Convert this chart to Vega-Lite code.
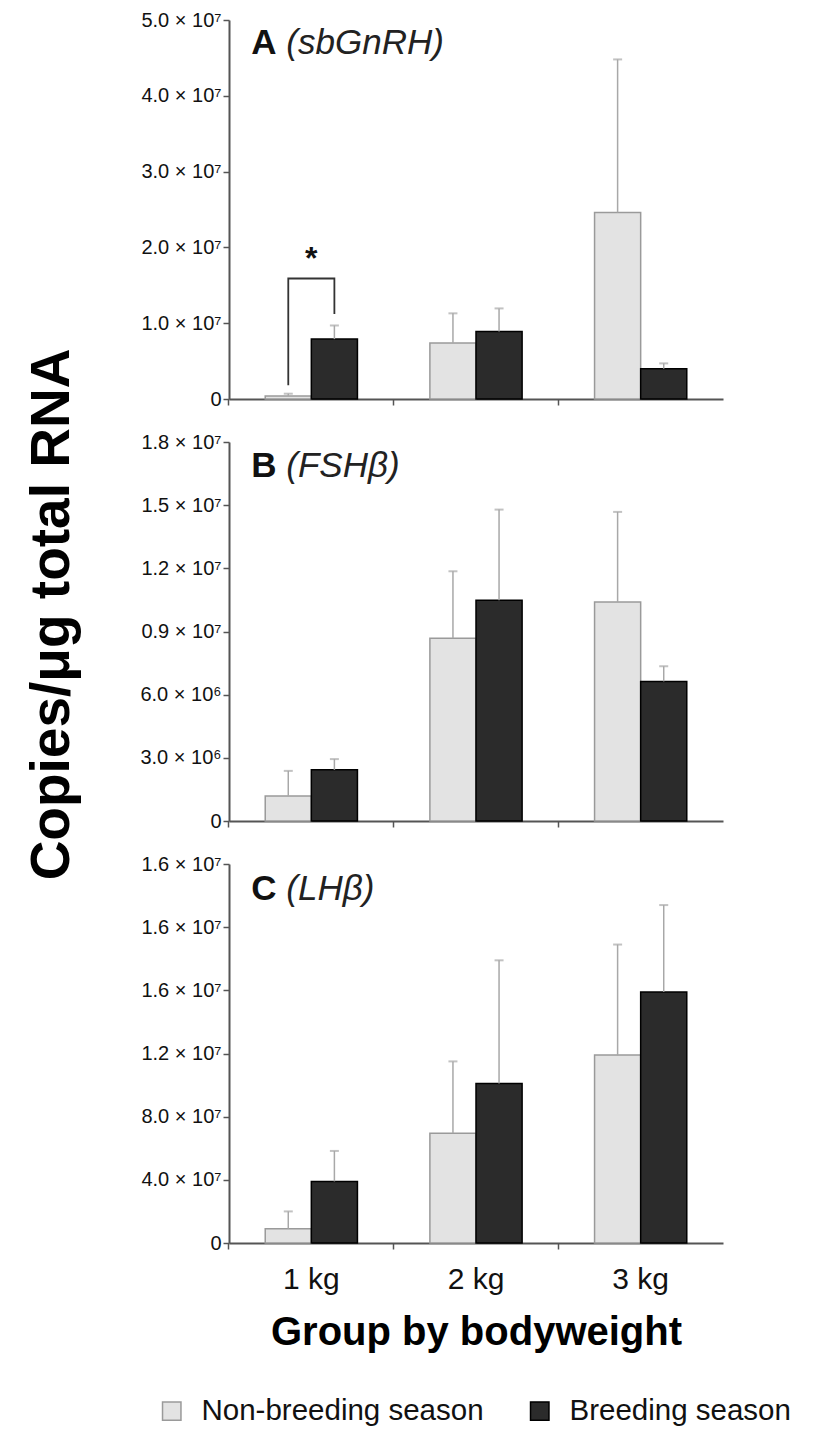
{
  "$schema": "https://vega.github.io/schema/vega-lite/v6.json",
  "padding": {"left": 24, "top": 10, "right": 20, "bottom": 10},
  "bounds": "flush",
  "spacing": 43,
  "config": {
    "font": "Liberation Sans",
    "view": {"stroke": null},
    "axis": {"domainColor": "#555555", "domainWidth": 2, "tickColor": "#555555", "tickWidth": 1.5, "grid": false, "labelColor": "#111111", "titleColor": "#000000"},
    "axisY": {"labelFontSize": 20, "tickSize": 6, "labelPadding": 2},
    "axisX": {"tickSize": 6, "bandPosition": -0.393, "labelFontSize": 30, "labelPadding": 15, "labelAngle": 0},
    "legend": {"title": null, "orient": "none", "direction": "horizontal", "legendX": -72, "legendY": 1376, "symbolType": "square", "symbolSize": 340, "symbolStrokeWidth": 1.5, "labelFontSize": 29.5, "labelOffset": 15, "columnPadding": 41, "labelColor": "#111111", "labelLimit": 400}
  },
  "datasets": {
    "bars": [
      {"panel": "A", "group": "1 kg", "season": "Non-breeding season", "value": 400000, "upper": 700000},
      {"panel": "A", "group": "1 kg", "season": "Breeding season", "value": 7900000, "upper": 9700000},
      {"panel": "A", "group": "2 kg", "season": "Non-breeding season", "value": 7400000, "upper": 11300000},
      {"panel": "A", "group": "2 kg", "season": "Breeding season", "value": 8900000, "upper": 11950000},
      {"panel": "A", "group": "3 kg", "season": "Non-breeding season", "value": 24600000, "upper": 44800000},
      {"panel": "A", "group": "3 kg", "season": "Breeding season", "value": 4000000, "upper": 4700000},
      {"panel": "B", "group": "1 kg", "season": "Non-breeding season", "value": 1190000, "upper": 2380000},
      {"panel": "B", "group": "1 kg", "season": "Breeding season", "value": 2430000, "upper": 2940000},
      {"panel": "B", "group": "2 kg", "season": "Non-breeding season", "value": 8680000, "upper": 11860000},
      {"panel": "B", "group": "2 kg", "season": "Breeding season", "value": 10480000, "upper": 14790000},
      {"panel": "B", "group": "3 kg", "season": "Non-breeding season", "value": 10400000, "upper": 14680000},
      {"panel": "B", "group": "3 kg", "season": "Breeding season", "value": 6630000, "upper": 7350000},
      {"panel": "C", "group": "1 kg", "season": "Non-breeding season", "value": 900000, "upper": 2000000},
      {"panel": "C", "group": "1 kg", "season": "Breeding season", "value": 3900000, "upper": 5830000},
      {"panel": "C", "group": "2 kg", "season": "Non-breeding season", "value": 6950000, "upper": 11500000},
      {"panel": "C", "group": "2 kg", "season": "Breeding season", "value": 10100000, "upper": 17900000},
      {"panel": "C", "group": "3 kg", "season": "Non-breeding season", "value": 11900000, "upper": 18900000},
      {"panel": "C", "group": "3 kg", "season": "Breeding season", "value": 15900000, "upper": 21400000}
    ],
    "bracket": [
      {"group": "1 kg", "season": "Non-breeding season", "y": 1800000, "ord": 1},
      {"group": "1 kg", "season": "Non-breeding season", "y": 15900000, "ord": 2},
      {"group": "1 kg", "season": "Breeding season", "y": 15900000, "ord": 3},
      {"group": "1 kg", "season": "Breeding season", "y": 11200000, "ord": 4}
    ],
    "star": [
      {"group": "1 kg", "y": 18500000, "text": "*"}
    ],
    "labels": [
      {"panel": "A", "group": "1 kg", "y": 45500000, "letter": "A", "gene": "(sbGnRH)"},
      {"panel": "B", "group": "1 kg", "y": 16340000, "letter": "B", "gene": "(FSHβ)"},
      {"panel": "C", "group": "1 kg", "y": 21740000, "letter": "C", "gene": "(LHβ)"}
    ]
  },
  "vconcat": [
    {
      "width": 494,
      "height": 379,
      "layer": [
        {
          "data": {"name": "bars"},
          "transform": [{"filter": "datum.panel == 'A'"}],
          "mark": {"type": "bar", "strokeWidth": 1.5},
          "encoding": {
            "x": {"field": "group", "type": "nominal", "scale": {"domain": ["1 kg", "2 kg", "3 kg"], "paddingInner": 0.44, "paddingOuter": 0.22}, "axis": {"labels": false, "title": null}},
            "xOffset": {"field": "season", "type": "nominal", "scale": {"domain": ["Non-breeding season", "Breeding season"], "paddingInner": 0, "paddingOuter": 0}},
            "y": {"field": "value", "type": "quantitative", "scale": {"domain": [0, 50000000], "nice": false}, "axis": {"title": null, "values": [0, 10000000, 20000000, 30000000, 40000000, 50000000], "labelExpr": "datum.value == 0 ? '0' : format(datum.value / 1e7, '.1f') + ' × 10⁷'"}},
            "color": {"field": "season", "type": "nominal", "scale": {"domain": ["Non-breeding season", "Breeding season"], "range": ["#e3e3e3", "#2b2b2b"]}},
            "stroke": {"field": "season", "type": "nominal", "scale": {"domain": ["Non-breeding season", "Breeding season"], "range": ["#9a9a9a", "#000000"]}}
          }
        },
        {
          "data": {"name": "bars"},
          "transform": [{"filter": "datum.panel == 'A'"}],
          "mark": {"type": "rule", "color": "#a8a8a8", "strokeWidth": 1.5},
          "encoding": {
            "x": {"field": "group", "type": "nominal"},
            "xOffset": {"field": "season", "type": "nominal"},
            "y": {"field": "value", "type": "quantitative"},
            "y2": {"field": "upper"}
          }
        },
        {
          "data": {"name": "bars"},
          "transform": [{"filter": "datum.panel == 'A'"}],
          "mark": {"type": "tick", "orient": "horizontal", "size": 9, "thickness": 2, "color": "#a8a8a8"},
          "encoding": {
            "x": {"field": "group", "type": "nominal"},
            "xOffset": {"field": "season", "type": "nominal"},
            "y": {"field": "upper", "type": "quantitative"}
          }
        },
        {
          "data": {"name": "bracket"},
          "mark": {"type": "line", "color": "#333333", "strokeWidth": 1.8},
          "encoding": {
            "x": {"field": "group", "type": "nominal"},
            "xOffset": {"field": "season", "type": "nominal"},
            "y": {"field": "y", "type": "quantitative"},
            "order": {"field": "ord", "type": "quantitative"}
          }
        },
        {
          "data": {"name": "star"},
          "mark": {"type": "text", "fontSize": 32, "fontWeight": "bold", "baseline": "middle", "color": "#111111"},
          "encoding": {
            "x": {"field": "group", "type": "nominal"},
            "y": {"field": "y", "type": "quantitative"},
            "text": {"field": "text"}
          }
        },
        {
          "data": {"name": "labels"},
          "transform": [{"filter": "datum.panel == 'A'"}],
          "mark": {"type": "text", "fontSize": 35, "fontWeight": "bold", "align": "left", "baseline": "alphabetic", "dx": -60, "color": "#111111"},
          "encoding": {
            "x": {"field": "group", "type": "nominal"},
            "y": {"field": "y", "type": "quantitative"},
            "text": {"field": "letter"}
          }
        },
        {
          "data": {"name": "labels"},
          "transform": [{"filter": "datum.panel == 'A'"}],
          "mark": {"type": "text", "fontSize": 35, "fontStyle": "italic", "align": "left", "baseline": "alphabetic", "dx": -25, "color": "#222222"},
          "encoding": {
            "x": {"field": "group", "type": "nominal"},
            "y": {"field": "y", "type": "quantitative"},
            "text": {"field": "gene"}
          }
        }
      ]
    },
    {
      "width": 494,
      "height": 379,
      "layer": [
        {
          "data": {"name": "bars"},
          "transform": [{"filter": "datum.panel == 'B'"}],
          "mark": {"type": "bar", "strokeWidth": 1.5},
          "encoding": {
            "x": {"field": "group", "type": "nominal", "scale": {"domain": ["1 kg", "2 kg", "3 kg"], "paddingInner": 0.44, "paddingOuter": 0.22}, "axis": {"labels": false, "title": null}},
            "xOffset": {"field": "season", "type": "nominal", "scale": {"domain": ["Non-breeding season", "Breeding season"], "paddingInner": 0, "paddingOuter": 0}},
            "y": {"field": "value", "type": "quantitative", "scale": {"domain": [0, 18000000], "nice": false}, "axis": {"title": "Copies/μg total RNA", "titleFontSize": 55, "titleFontWeight": "bold", "titlePadding": 59, "titleY": 172, "values": [0, 3000000, 6000000, 9000000, 12000000, 15000000, 18000000], "labelExpr": "datum.value == 0 ? '0' : datum.value < 8e6 ? format(datum.value / 1e6, '.1f') + ' × 10⁶' : format(datum.value / 1e7, '.1f') + ' × 10⁷'"}},
            "color": {"field": "season", "type": "nominal", "scale": {"domain": ["Non-breeding season", "Breeding season"], "range": ["#e3e3e3", "#2b2b2b"]}},
            "stroke": {"field": "season", "type": "nominal", "scale": {"domain": ["Non-breeding season", "Breeding season"], "range": ["#9a9a9a", "#000000"]}}
          }
        },
        {
          "data": {"name": "bars"},
          "transform": [{"filter": "datum.panel == 'B'"}],
          "mark": {"type": "rule", "color": "#a8a8a8", "strokeWidth": 1.5},
          "encoding": {
            "x": {"field": "group", "type": "nominal"},
            "xOffset": {"field": "season", "type": "nominal"},
            "y": {"field": "value", "type": "quantitative"},
            "y2": {"field": "upper"}
          }
        },
        {
          "data": {"name": "bars"},
          "transform": [{"filter": "datum.panel == 'B'"}],
          "mark": {"type": "tick", "orient": "horizontal", "size": 9, "thickness": 2, "color": "#a8a8a8"},
          "encoding": {
            "x": {"field": "group", "type": "nominal"},
            "xOffset": {"field": "season", "type": "nominal"},
            "y": {"field": "upper", "type": "quantitative"}
          }
        },
        {
          "data": {"name": "labels"},
          "transform": [{"filter": "datum.panel == 'B'"}],
          "mark": {"type": "text", "fontSize": 35, "fontWeight": "bold", "align": "left", "baseline": "alphabetic", "dx": -60, "color": "#111111"},
          "encoding": {
            "x": {"field": "group", "type": "nominal"},
            "y": {"field": "y", "type": "quantitative"},
            "text": {"field": "letter"}
          }
        },
        {
          "data": {"name": "labels"},
          "transform": [{"filter": "datum.panel == 'B'"}],
          "mark": {"type": "text", "fontSize": 35, "fontStyle": "italic", "align": "left", "baseline": "alphabetic", "dx": -25, "color": "#222222"},
          "encoding": {
            "x": {"field": "group", "type": "nominal"},
            "y": {"field": "y", "type": "quantitative"},
            "text": {"field": "gene"}
          }
        }
      ]
    },
    {
      "width": 494,
      "height": 379,
      "layer": [
        {
          "data": {"name": "bars"},
          "transform": [{"filter": "datum.panel == 'C'"}],
          "mark": {"type": "bar", "strokeWidth": 1.5},
          "encoding": {
            "x": {"field": "group", "type": "nominal", "scale": {"domain": ["1 kg", "2 kg", "3 kg"], "paddingInner": 0.44, "paddingOuter": 0.22}, "axis": {"title": "Group by bodyweight", "titleFontSize": 40, "titleFontWeight": "bold", "titlePadding": 18}},
            "xOffset": {"field": "season", "type": "nominal", "scale": {"domain": ["Non-breeding season", "Breeding season"], "paddingInner": 0, "paddingOuter": 0}},
            "y": {"field": "value", "type": "quantitative", "scale": {"domain": [0, 24000000], "nice": false}, "axis": {"title": null, "values": [0, 4000000, 8000000, 12000000, 16000000, 20000000, 24000000], "labelExpr": "['0','4.0 × 10⁷','8.0 × 10⁷','1.2 × 10⁷','1.6 × 10⁷','1.6 × 10⁷','1.6 × 10⁷'][round(datum.value / 4e6)]"}},
            "color": {"field": "season", "type": "nominal", "scale": {"domain": ["Non-breeding season", "Breeding season"], "range": ["#e3e3e3", "#2b2b2b"]}},
            "stroke": {"field": "season", "type": "nominal", "scale": {"domain": ["Non-breeding season", "Breeding season"], "range": ["#9a9a9a", "#000000"]}}
          }
        },
        {
          "data": {"name": "bars"},
          "transform": [{"filter": "datum.panel == 'C'"}],
          "mark": {"type": "rule", "color": "#a8a8a8", "strokeWidth": 1.5},
          "encoding": {
            "x": {"field": "group", "type": "nominal"},
            "xOffset": {"field": "season", "type": "nominal"},
            "y": {"field": "value", "type": "quantitative"},
            "y2": {"field": "upper"}
          }
        },
        {
          "data": {"name": "bars"},
          "transform": [{"filter": "datum.panel == 'C'"}],
          "mark": {"type": "tick", "orient": "horizontal", "size": 9, "thickness": 2, "color": "#a8a8a8"},
          "encoding": {
            "x": {"field": "group", "type": "nominal"},
            "xOffset": {"field": "season", "type": "nominal"},
            "y": {"field": "upper", "type": "quantitative"}
          }
        },
        {
          "data": {"name": "labels"},
          "transform": [{"filter": "datum.panel == 'C'"}],
          "mark": {"type": "text", "fontSize": 35, "fontWeight": "bold", "align": "left", "baseline": "alphabetic", "dx": -60, "color": "#111111"},
          "encoding": {
            "x": {"field": "group", "type": "nominal"},
            "y": {"field": "y", "type": "quantitative"},
            "text": {"field": "letter"}
          }
        },
        {
          "data": {"name": "labels"},
          "transform": [{"filter": "datum.panel == 'C'"}],
          "mark": {"type": "text", "fontSize": 35, "fontStyle": "italic", "align": "left", "baseline": "alphabetic", "dx": -25, "color": "#222222"},
          "encoding": {
            "x": {"field": "group", "type": "nominal"},
            "y": {"field": "y", "type": "quantitative"},
            "text": {"field": "gene"}
          }
        }
      ]
    }
  ],
  "resolve": {"scale": {"y": "independent", "x": "shared", "color": "shared", "stroke": "shared", "xOffset": "shared"}, "legend": {"color": "shared", "stroke": "shared"}}
}
